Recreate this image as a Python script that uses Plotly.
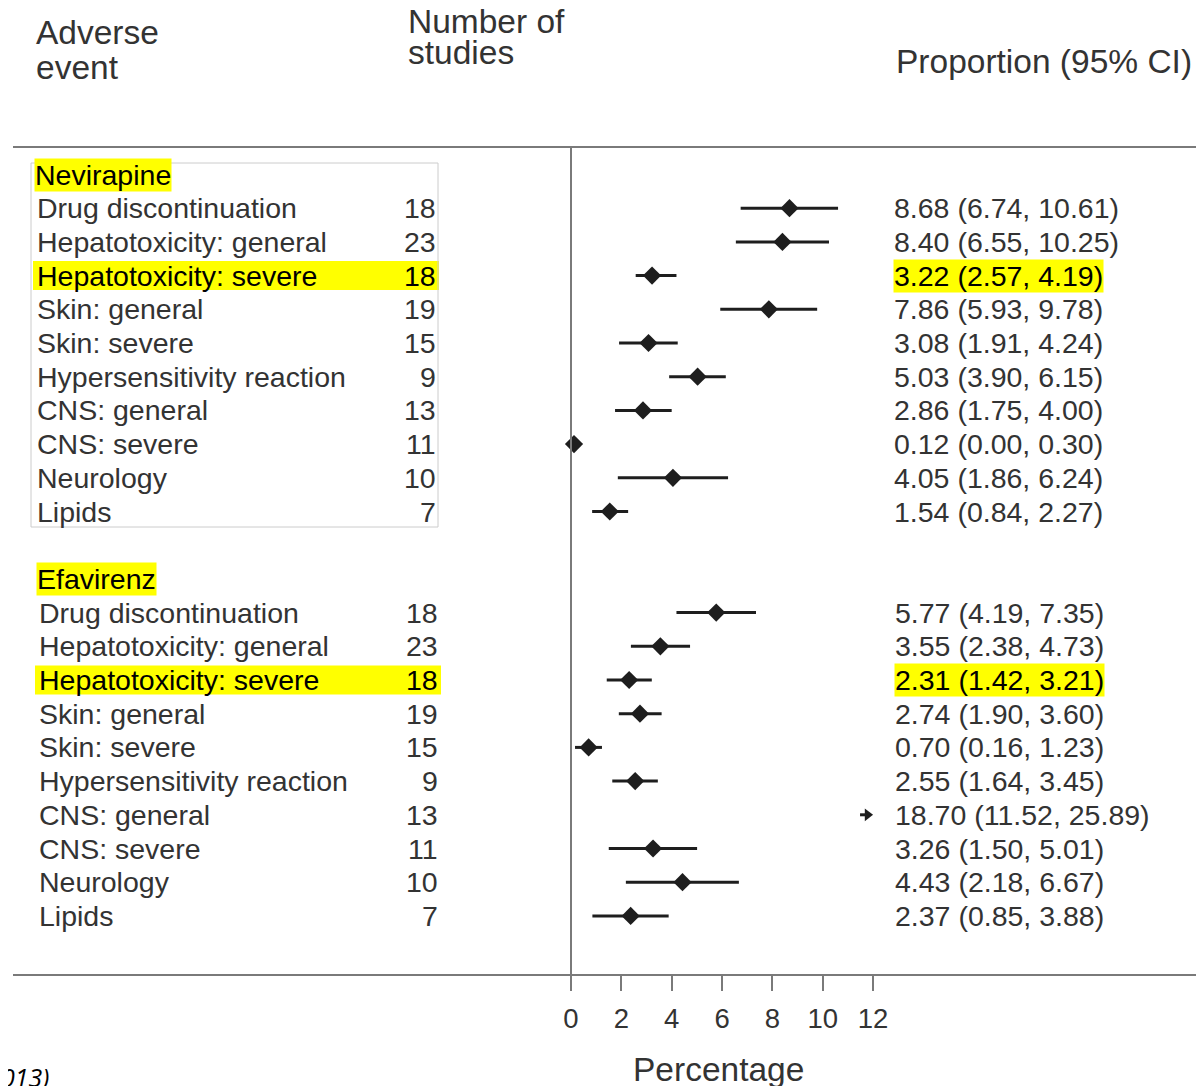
import plotly.graph_objects as go

# ---------------- data ----------------
events = ["Drug discontinuation", "Hepatotoxicity: general", "Hepatotoxicity: severe",
          "Skin: general", "Skin: severe", "Hypersensitivity reaction", "CNS: general",
          "CNS: severe", "Neurology", "Lipids"]
n_studies = [18, 23, 18, 19, 15, 9, 13, 11, 10, 7]

nev_est = [8.68, 8.40, 3.22, 7.86, 3.08, 5.03, 2.86, 0.12, 4.05, 1.54]
nev_lo = [6.74, 6.55, 2.57, 5.93, 1.91, 3.90, 1.75, 0.00, 1.86, 0.84]
nev_hi = [10.61, 10.25, 4.19, 9.78, 4.24, 6.15, 4.00, 0.30, 6.24, 2.27]

efa_est = [5.77, 3.55, 2.31, 2.74, 0.70, 2.55, 18.70, 3.26, 4.43, 2.37]
efa_lo = [4.19, 2.38, 1.42, 1.90, 0.16, 1.64, 11.52, 1.50, 2.18, 0.85]
efa_hi = [7.35, 4.73, 3.21, 3.60, 1.23, 3.45, 25.89, 5.01, 6.67, 3.88]

groups = ["Nevirapine", "Efavirenz"]
highlight_event = "Hepatotoxicity: severe"
x_ticks = [0, 2, 4, 6, 8, 10, 12]
x_max = 12

# ---------------- layout geometry ----------------
W, H = 1204, 1086
OFF = 8                            # page body margin
X0PX, PXU = 571.0 - OFF, 25.17     # figure pixel of x=0, pixels per unit
ROW0, PITCH = 174.5 - OFF, 33.7    # figure pixel of row 0, row pitch
FONT = "Liberation Sans, Arial, sans-serif"
FS = 28.5
FSH = 33.5
TXT = "#333333"
LINEC = "#7a7a7a"
MARK = "#1e1e1e"
ARROW_LEN_PX, ARROW_HEAD_PX = 13, 11


def xp(px):
    return (px - OFF) / W


def yp(px):
    return 1 - (px - OFF) / H


x_range = [-X0PX / PXU, (W - X0PX) / PXU]
y_range = [(H - ROW0) / PITCH, -ROW0 / PITCH]

fig = go.Figure()
annotations = []
shapes = []

group_data = [(nev_est, nev_lo, nev_hi), (efa_est, efa_lo, efa_hi)]
group_start = [0, 12]
label_x = [35, 37]
num_x = [438, 440]
ci_x = [893, 894]

for g, (est, lo, hi) in enumerate(group_data):
    r0 = group_start[g]
    rows = [r0 + 1 + i for i in range(len(events))]
    # group header
    annotations.append(dict(x=xp(label_x[g] - 1), y=r0, xref="paper", yref="y",
                            text=groups[g], showarrow=False, xanchor="left", yanchor="middle",
                            font=dict(family=FONT, size=FS, color="black"),
                            bgcolor="#ffff00", borderpad=0))
    xs, ys, ep, em = [], [], [], []
    for i, ev in enumerate(events):
        r = rows[i]
        hl = ev == highlight_event
        if hl:
            shapes.append(dict(type="rect", xref="paper", yref="y", layer="below",
                               x0=xp(label_x[g] - 2), x1=xp(num_x[g] + 1),
                               y0=r - 0.43, y1=r + 0.43,
                               fillcolor="#ffff00", line=dict(width=0)))
        col = "black" if hl else TXT
        annotations.append(dict(x=xp(label_x[g]), y=r, xref="paper", yref="y", text=ev,
                                showarrow=False, xanchor="left", yanchor="middle",
                                font=dict(family=FONT, size=FS, color=col)))
        annotations.append(dict(x=xp(num_x[g]), y=r, xref="paper", yref="y",
                                text=str(n_studies[i]), showarrow=False, xanchor="right",
                                yanchor="middle", font=dict(family=FONT, size=FS, color=col)))
        annotations.append(dict(x=xp(ci_x[g]), y=r, xref="paper", yref="y",
                                text=f"{est[i]:.2f} ({lo[i]:.2f}, {hi[i]:.2f})",
                                showarrow=False, xanchor="left", yanchor="middle",
                                bgcolor="#ffff00" if hl else None, borderpad=0,
                                font=dict(family=FONT, size=FS, color=col)))
        if est[i] > x_max:
            # off-scale estimate: small arrow pointing right at the axis limit
            tail = x_max - ARROW_LEN_PX / PXU
            head_c = x_max - (ARROW_HEAD_PX / 2) / PXU
            fig.add_trace(go.Scatter(x=[tail, head_c], y=[r, r], mode="lines",
                                     line=dict(color=MARK, width=3),
                                     showlegend=False, hoverinfo="skip"))
            fig.add_trace(go.Scatter(x=[head_c], y=[r], mode="markers",
                                     marker=dict(symbol="triangle-right", size=ARROW_HEAD_PX,
                                                 color=MARK),
                                     showlegend=False, hoverinfo="skip"))
        else:
            xs.append(est[i])
            ys.append(r)
            ep.append(hi[i] - est[i])
            em.append(est[i] - lo[i])
    fig.add_trace(go.Scatter(
        x=xs, y=ys, mode="markers",
        marker=dict(symbol="diamond", size=14, color=MARK),
        error_x=dict(type="data", symmetric=False, array=ep, arrayminus=em,
                     width=0, thickness=3, color=MARK),
        showlegend=False, hoverinfo="skip"))

# box around Nevirapine block
shapes.append(dict(type="rect", xref="paper", yref="paper", layer="below",
                   x0=xp(31), x1=xp(438), y0=yp(163), y1=yp(527),
                   line=dict(color="#cccccc", width=1)))
# horizontal rules
for py in (147, 975):
    shapes.append(dict(type="line", xref="paper", yref="paper",
                       x0=xp(13), x1=1, y0=yp(py), y1=yp(py),
                       line=dict(color=LINEC, width=2)))
# vertical zero line
shapes.append(dict(type="line", xref="x", yref="paper", x0=0, x1=0,
                   y0=yp(147), y1=yp(991), line=dict(color=LINEC, width=2)))

# column headers (one annotation per line to keep the tight line spacing)
hdr = dict(family=FONT, size=FSH, color=TXT)
header_lines = [("Adverse", 35, 33), ("event", 35, 67),
                ("Number of", 407, 21), ("studies", 407, 53),
                ("Proportion (95% CI)", 895, 62)]
for txt, hx, hy in header_lines:
    annotations.append(dict(x=xp(hx), y=yp(hy), xref="paper", yref="paper",
                            text=txt, showarrow=False, xanchor="left",
                            yanchor="middle", font=hdr, borderpad=0))
annotations.append(dict(x=xp(718), y=yp(1069), xref="paper", yref="paper",
                        text="Percentage", showarrow=False, xanchor="center",
                        yanchor="middle", font=hdr))
annotations.append(dict(x=xp(-1), y=yp(1077), xref="paper", yref="paper",
                        text="<i>013)</i>", showarrow=False, xanchor="left",
                        yanchor="middle", font=dict(family="Open Sans, sans-serif", size=25, color="black")))

fig.update_layout(
    width=W, height=H, margin=dict(l=0, r=0, t=0, b=0),
    paper_bgcolor="white", plot_bgcolor="white",
    xaxis=dict(range=x_range, showgrid=False, zeroline=False, showline=False,
               tickvals=x_ticks, ticktext=[str(t) for t in x_ticks],
               ticks="outside", ticklen=15, tickwidth=2, tickcolor=LINEC,
               tickfont=dict(family=FONT, size=FS - 1, color=TXT),
               ticklabelstandoff=4,
               anchor="free", position=yp(975), fixedrange=True),
    yaxis=dict(range=y_range, visible=False, fixedrange=True),
    annotations=annotations, shapes=shapes,
)

fig.write_html("out.html")
